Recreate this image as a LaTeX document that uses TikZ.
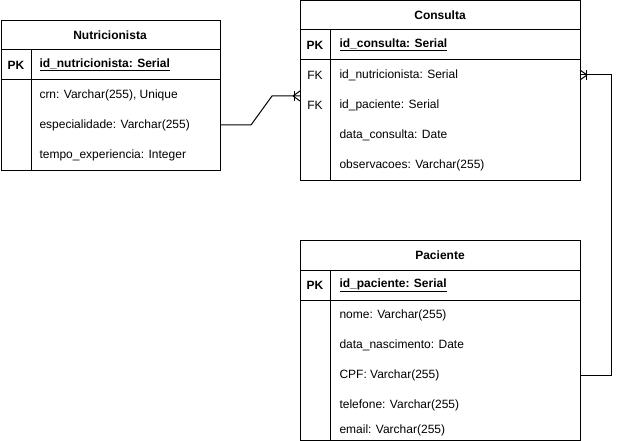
\documentclass[tikz,border=0pt]{standalone}
\usepackage{fontspec}
\setmainfont{Liberation Sans}
\begin{document}
\begin{tikzpicture}[x=1pt,y=-1pt,line width=1pt,
  frame/.style={draw,rectangle,inner sep=0pt,anchor=north west},
  title/.style={font=\bfseries\fontsize{12}{14}\selectfont,inner sep=0pt,anchor=center},
  keylbl/.style={font=\bfseries\fontsize{12}{14}\selectfont,inner sep=0pt,anchor=center},
  keyfld/.style={font=\bfseries\fontsize{12}{14}\selectfont,inner sep=0pt,anchor=west},
  fklbl/.style={font=\fontsize{12}{14}\selectfont,inner sep=0pt,anchor=center},
  fld/.style={font=\fontsize{12}{14}\selectfont,inner sep=0pt,anchor=west},
  rel/.style={draw,line width=1pt,line join=miter}]
\useasboundingbox (0,0) rectangle (619,441);

% ---------- Nutricionista ----------
\node[frame,minimum width=219.5pt,minimum height=150pt] (nutri) at (0.5,20) {};
\draw (0.5,50) -- (220,50);
\draw (0.5,80) -- (220,80);
\draw (31,50) -- (31,170);
\node[title] (nutriT) at (110,35) {Nutricionista};
\node[keylbl] (nutriPK) at (16,65) {PK};
\node[keyfld] (nutriId) at (39,65) {\underline{id\_nutricionista: Serial}};
\node[fld] (nutriCrn) at (39,95) {crn: Varchar(255), Unique};
\node[fld] (nutriEsp) at (39,125) {especialidade: Varchar(255)};
\node[fld] (nutriTempo) at (39,155) {tempo\_experiencia: Integer};

% ---------- Consulta ----------
\node[frame,minimum width=280pt,minimum height=179.5pt] (cons) at (300,0.5) {};
\draw (300,30) -- (580,30);
\draw (300,60) -- (580,60);
\draw (330,30) -- (330,180);
\node[title] (consT) at (440,15) {Consulta};
\node[keylbl] (consPK) at (315,45) {PK};
\node[keyfld] (consId) at (339,45) {\underline{id\_consulta: Serial}};
\node[fklbl] (consFK1) at (315,75) {FK};
\node[fld] (consNutri) at (339,75) {id\_nutricionista: Serial};
\node[fklbl] (consFK2) at (315,105) {FK};
\node[fld] (consPac) at (339,105) {id\_paciente: Serial};
\node[fld] (consData) at (339,135) {data\_consulta: Date};
\node[fld] (consObs) at (339,165) {observacoes: Varchar(255)};

% ---------- Paciente ----------
\node[frame,minimum width=280pt,minimum height=200pt] (pac) at (300,240) {};
\draw (300,270) -- (580,270);
\draw (300,300) -- (580,300);
\draw (330,270) -- (330,440);
\node[title] (pacT) at (440,255) {Paciente};
\node[keylbl] (pacPK) at (315,285) {PK};
\node[keyfld] (pacId) at (339,285) {\underline{id\_paciente: Serial}};
\node[fld] (pacNome) at (339,315) {nome: Varchar(255)};
\node[fld] (pacNasc) at (339,345) {data\_nascimento: Date};
\node[fld] (pacCpf) at (339,375) {CPF: Varchar(255)};
\node[fld] (pacTel) at (339,405) {telefone: Varchar(255)};
\node[fld] (pacEmail) at (339,430) {email: Varchar(255)};

% ---------- relationship end points ----------
\coordinate (nutriOut) at (nutri.east |- nutriEsp);
\coordinate (consInA) at (300,96);
\coordinate (pacOut) at (pac.east |- pacCpf);
\coordinate (consInB) at (580,75);

% Nutricionista -> Consulta (one to many)
\draw[rel] (nutriOut) -- ++(30,0) -- (272,96) -- (consInA);
\draw[rel] (consInA) ++(-6,-5) -- ++(0,10);
\draw[rel] (consInA) ++(-7,0) -- ++(7,-5);
\draw[rel] (consInA) ++(-7,0) -- ++(7,5);

% Paciente -> Consulta (one to many)
\draw[rel] (pacOut) -- ++(30,0) |- (consInB);
\draw[rel] (consInB) ++(6,-5) -- ++(0,10);
\draw[rel] (consInB) ++(7,0) -- ++(-7,-5);
\draw[rel] (consInB) ++(7,0) -- ++(-7,5);
\end{tikzpicture}
\end{document}
